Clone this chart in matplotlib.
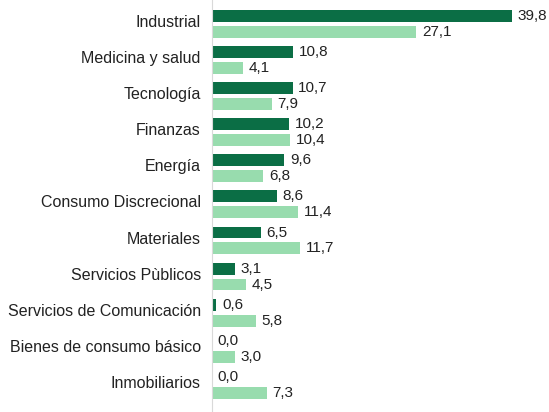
import matplotlib.pyplot as plt
import numpy as np

plt.rcParams['font.family'] = ['Liberation Sans', 'DejaVu Sans']

categories = ['Industrial', 'Medicina y salud', 'Tecnología', 'Finanzas', 'Energía',
              'Consumo Discrecional', 'Materiales', 'Servicios Pùblicos',
              'Servicios de Comunicación', 'Bienes de consumo básico', 'Inmobiliarios']
serie_a = [39.8, 10.8, 10.7, 10.2, 9.6, 8.6, 6.5, 3.1, 0.6, 0.0, 0.0]
serie_b = [27.1, 4.1, 7.9, 10.4, 6.8, 11.4, 11.7, 4.5, 5.8, 3.0, 7.3]

dark = '#0b6e45'
light = '#98dcae'

fig = plt.figure(figsize=(5.49, 4.12), dpi=100)
ax = fig.add_axes([0.386, 0.0, 0.55, 1.0])

y = np.arange(len(categories))
h = 0.33
off = 0.22
bars_a = ax.barh(y - off, serie_a, height=h, color=dark)
bars_b = ax.barh(y + off, serie_b, height=h, color=light)

for bars, vals in ((bars_a, serie_a), (bars_b, serie_b)):
    for b, v in zip(bars, vals):
        ax.annotate(f'{v:.1f}'.replace('.', ','),
                    xy=(v, b.get_y() + b.get_height() / 2),
                    xytext=(4, 0), textcoords='offset points',
                    va='center', ha='left', fontsize=11, color='#222222',
                    annotation_clip=False)

ax.set_xlim(0, 40)
ax.set_ylim(10.75, -0.66)
ax.set_yticks(y - 0.08)
ax.set_yticklabels(categories, fontsize=11.5, color='#222222')
ax.tick_params(axis='y', length=0, pad=8)
ax.set_xticks([])
for s in ['top', 'right', 'bottom']:
    ax.spines[s].set_visible(False)
ax.spines['left'].set_color('#d9d9d9')

fig.savefig('out.png', dpi=100)
